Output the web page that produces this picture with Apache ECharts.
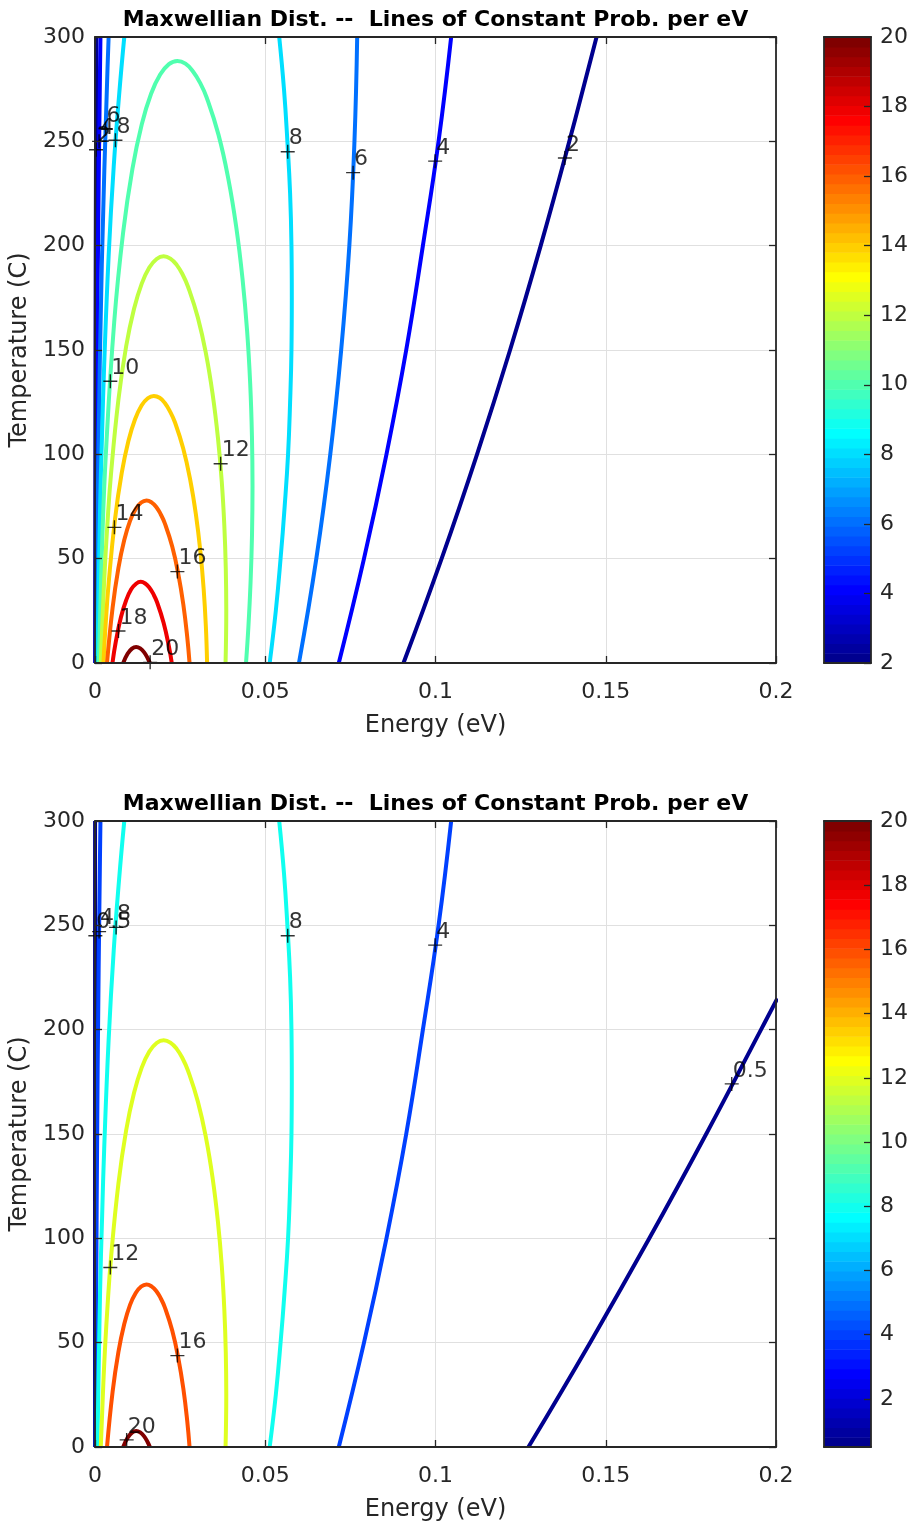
<!DOCTYPE html>
<html><head><meta charset="utf-8">
<script src="https://cdn.jsdelivr.net/npm/echarts@6/dist/echarts.min.js"></script>
<style>html,body{margin:0;padding:0;background:#fff}#c{width:911px;height:1525px}</style>
</head><body><div id="c"></div>
<script>
// ---------------- data ----------------
const TITLE = 'Maxwellian Dist. --  Lines of Constant Prob. per eV';
const X_NAME = 'Energy (eV)';
const Y_NAME = 'Temperature (C)';
const X_MIN = 0, X_MAX = 0.2, X_STEP = 0.05;
const Y_MIN = 0, Y_MAX = 300, Y_STEP = 50;
const TOP_CLIM = [2, 20];
const BOTTOM_CLIM = [0.5, 20];
const CBAR_TICKS_BOTTOM = [2, 4, 6, 8, 10, 12, 14, 16, 18, 20];

// contour paths, points [Energy (eV), Temperature (C)]
const C05_LEFT  = [[0.000003,0],[0.00001,150],[0.000024,300]];
const C05_RIGHT = [[0.1273,0],[0.1454,50],[0.1628,100],[0.1795,150],[0.1956,200],[0.2004,215]];
const C2_LEFT   = [[0.00004,0],[0.0001,100],[0.0002,187],[0.00038,300]];
const C2_RIGHT  = [[0.0906,0],[0.1018,50],[0.1122,100],[0.1219,150],[0.1309,200],[0.1393,250],[0.1473,300]];
const C4_LEFT   = [[0.00017,0],[0.00028,51],[0.00078,181],[0.00142,277],[0.0016,300]];
const C4_RIGHT  = [[0.0716,0],[0.0790,50],[0.0856,100],[0.0914,150],[0.0963,200],[0.1009,250],[0.1046,300]];
const C6_LEFT   = [[0.00038,0],[0.00052,29],[0.00095,94],[0.0020,191],[0.0036,281],[0.0040,300]];
const C6_RIGHT  = [[0.0599,0],[0.0650,50],[0.0691,100],[0.0723,150],[0.0747,200],[0.0762,250],[0.0770,300]];
const C8_LEFT   = [[0.0007,0],[0.0015,75],[0.0021,111],[0.0027,143],[0.0040,195],[0.0055,238],[0.0071,272.5],[0.0086,300]];
const C8_RIGHT  = [[0.0513,0],[0.0531,25],[0.0545,50],[0.0557,75],[0.0567,100],[0.0573,125],[0.0577,150],[0.0578,175],[0.0577,200],[0.0573,225],[0.0565,250],[0.0555,275],[0.0541,300]];
const C10 = [[0.00113,0],[0.00215,59.5],[0.00323,101.5],[0.00564,163.4],[0.00826,206.3],[0.01099,236.8],[0.01374,258.2],[0.01647,272.8],[0.01914,282.0],[0.02172,287.0],[0.0242,288.5],[0.02656,287.2],[0.02878,283.5],[0.03087,278.0],[0.03282,270.9],[0.03628,253.1],[0.03917,231.9],[0.04151,208.6],[0.04333,184.0],[0.04468,158.9],[0.04558,133.8],[0.04609,108.9],[0.04626,84.7],[0.04611,61.3],[0.04569,38.8],[0.04505,17.3],[0.04435,0]];
const C12 = [[0.0017,0],[0.00269,39.1],[0.00367,67.3],[0.0047,90.6],[0.00689,126.4],[0.00915,151.8],[0.01145,169.6],[0.01372,181.8],[0.01595,189.5],[0.0181,193.6],[0.02017,194.9],[0.02213,193.8],[0.02399,190.8],[0.02573,186.2],[0.02735,180.2],[0.03023,165.4],[0.03264,147.8],[0.03459,128.3],[0.03611,107.8],[0.03723,86.9],[0.03798,65.9],[0.03841,45.3],[0.03855,25.1],[0.03834,0]];
const C14 = [[0.00248,0],[0.00314,18.7],[0.00403,38.7],[0.0059,69.3],[0.00785,91.1],[0.00981,106.4],[0.01176,116.8],[0.01367,123.4],[0.01551,126.9],[0.01728,128.0],[0.01897,127.1],[0.02056,124.5],[0.02205,120.5],[0.02344,115.5],[0.02591,102.8],[0.02798,87.6],[0.02965,71.0],[0.03095,53.4],[0.03191,35.5],[0.03256,17.5],[0.03292,0]];
const C16 = [[0.00353,0],[0.00517,26.5],[0.00687,45.5],[0.00859,58.9],[0.01029,68.1],[0.01196,73.8],[0.01357,76.9],[0.01512,77.9],[0.0166,77.0],[0.01799,74.8],[0.01929,71.3],[0.02051,66.9],[0.02268,55.8],[0.02448,42.5],[0.02595,27.9],[0.02708,12.6],[0.02777,0]];
const C18 = [[0.00513,0],[0.0061,10.1],[0.00763,22.0],[0.00915,30.1],[0.01063,35.3],[0.01207,38.0],[0.01344,38.9],[0.01475,38.1],[0.01599,36.1],[0.01715,33.0],[0.01823,29.1],[0.02016,19.2],[0.02176,7.5],[0.02255,0]];
const C20 = [[0.00829,0],[0.00957,4.4],[0.01086,6.9],[0.0121,7.7],[0.01328,7.0],[0.01439,5.2],[0.01544,2.4],[0.01612,0]];

// [level, path] for each panel
const TOP_PATHS = [[2,C2_LEFT],[2,C2_RIGHT],[4,C4_LEFT],[4,C4_RIGHT],[6,C6_LEFT],[6,C6_RIGHT],[8,C8_LEFT],[8,C8_RIGHT],[10,C10],[12,C12],[14,C14],[16,C16],[18,C18],[20,C20]];
const BOTTOM_PATHS = [[0.5,C05_LEFT],[0.5,C05_RIGHT],[4,C4_LEFT],[4,C4_RIGHT],[8,C8_LEFT],[8,C8_RIGHT],[12,C12],[16,C16],[20,C20]];

// contour labels [text, E, T]
const TOP_LABELS = [['2',0.0003,246],['4',0.0012,250],['6',0.0031,256],['8',0.0060,250.5],['8',0.0566,245],['6',0.0758,235],['4',0.0999,240.5],['2',0.1380,242],['10',0.0045,135],['12',0.0369,95.5],['14',0.0057,65],['16',0.0242,43.8],['18',0.0069,15.3],['20',0.0162,0.3]];
const BOTTOM_LABELS = [['0.5',0.0001,245],['4',0.0012,247],['8',0.0062,249],['8',0.0566,245],['4',0.0999,240.5],['0.5',0.1870,174],['12',0.0045,86],['16',0.0242,43.8],['20',0.0093,3.4]];

// ---------------- styling ----------------
const F = 'DejaVu Sans';
const AX = '#262626';
function jet(k) { // MATLAB jet(64), k = 1..64
  const b = k <= 8 ? (k + 8) / 16 : k <= 23 ? 1 : k <= 39 ? (40 - k) / 16 : 0;
  const g = k <= 8 ? 0 : k <= 24 ? (k - 8) / 16 : k <= 39 ? 1 : k <= 55 ? (56 - k) / 16 : 0;
  const r = k <= 24 ? 0 : k <= 40 ? (k - 24) / 16 : k <= 55 ? 1 : (72 - k) / 16;
  return 'rgb(' + Math.round(r * 255) + ',' + Math.round(g * 255) + ',' + Math.round(b * 255) + ')';
}
function levelColor(c, clim) {
  return jet(Math.min(64, Math.floor((c - clim[0]) / (clim[1] - clim[0]) * 64) + 1));
}
const PLOTS = [{top: 37, clim: TOP_CLIM, paths: TOP_PATHS, labels: TOP_LABELS},
               {top: 821, clim: BOTTOM_CLIM, paths: BOTTOM_PATHS, labels: BOTTOM_LABELS}];
const PLUS = 'path://M6.3,0h1.4v6.3h6.3v1.4h-6.3v6.3h-1.4v-6.3h-6.3v-1.4h6.3z';

const grid = [], xAxis = [], yAxis = [], series = [];
const lineBox = {show: true, onZero: false, lineStyle: {color: AX, width: 1.8}};
const tickIn = {show: true, inside: true, length: 7, lineStyle: {color: AX, width: 1.3}};

PLOTS.forEach((p, i) => {
  grid.push({left: 95, top: p.top, width: 681, height: 626});
  const gi = grid.length - 1;
  const xb = xAxis.length;
  const xr = {gridIndex: gi, type: 'value', min: X_MIN, max: X_MAX, interval: X_STEP};
  xAxis.push(Object.assign({}, xr, {position: 'bottom', z: 0, axisLine: {show: false, onZero: false}, axisTick: {show: false},
    axisLabel: {color: AX, fontSize: 22, fontFamily: F, margin: 18},
    splitLine: {show: true, lineStyle: {color: '#e0e0e0', width: 1}},
    name: X_NAME, nameLocation: 'middle', nameGap: 51, nameTextStyle: {color: AX, fontSize: 24, fontFamily: F}}));
  xAxis.push(Object.assign({}, xr, {position: 'bottom', z: 10, axisLine: lineBox, axisTick: tickIn, axisLabel: {show: false}, splitLine: {show: false}}));
  xAxis.push(Object.assign({}, xr, {position: 'top', z: 10, axisLine: lineBox, axisTick: tickIn, axisLabel: {show: false}, splitLine: {show: false},
    name: TITLE, nameLocation: 'middle', nameGap: 6, nameTextStyle: {color: '#000', fontSize: 22, fontWeight: 'bold', fontFamily: F}}));
  const yb = yAxis.length;
  const yr = {gridIndex: gi, type: 'value', min: Y_MIN, max: Y_MAX, interval: Y_STEP};
  yAxis.push(Object.assign({}, yr, {position: 'left', z: 0, axisLine: {show: false, onZero: false}, axisTick: {show: false},
    axisLabel: {color: AX, fontSize: 22, fontFamily: F, margin: 10},
    splitLine: {show: true, lineStyle: {color: '#e0e0e0', width: 1}},
    name: Y_NAME, nameLocation: 'middle', nameGap: 50, nameTextStyle: {color: AX, fontSize: 24, fontFamily: F}}));
  yAxis.push(Object.assign({}, yr, {position: 'left', z: 10, axisLine: lineBox, axisTick: tickIn, axisLabel: {show: false}, splitLine: {show: false}}));
  yAxis.push(Object.assign({}, yr, {position: 'right', z: 10, axisLine: lineBox, axisTick: tickIn, axisLabel: {show: false}, splitLine: {show: false}}));

  p.paths.forEach(([lev, path]) => {
    series.push({type: 'line', xAxisIndex: xb, yAxisIndex: yb, data: path, symbol: 'none', showSymbol: false,
      smooth: 0.45, silent: true, z: 2, lineStyle: {color: levelColor(lev, p.clim), width: 4}});
  });
  series.push({type: 'scatter', xAxisIndex: xb, yAxisIndex: yb, silent: true, z: 5, clip: false,
    data: p.labels.map(l => ({name: l[0], value: [l[1], l[2]]})),
    symbol: PLUS, symbolSize: 14, itemStyle: {color: '#000'},
    label: {show: true, formatter: '{b}', position: [8, -6], align: 'left', verticalAlign: 'middle', color: '#000', fontSize: 22, fontFamily: F}});

  // colorbar
  grid.push({left: 824, top: p.top, width: 49, height: 626});
  const cg = grid.length - 1;
  const cxb = xAxis.length;
  xAxis.push({gridIndex: cg, type: 'value', min: 0, max: 1, position: 'bottom', z: 10, axisLine: lineBox, axisTick: {show: false}, axisLabel: {show: false}, splitLine: {show: false}});
  xAxis.push({gridIndex: cg, type: 'value', min: 0, max: 1, position: 'top', z: 10, axisLine: lineBox, axisTick: {show: false}, axisLabel: {show: false}, splitLine: {show: false}});
  const cyb = yAxis.length;
  const cy = {gridIndex: cg, type: 'value', min: p.clim[0], max: p.clim[1], position: 'right', z: 10, axisLine: lineBox,
    axisTick: Object.assign({}, tickIn), axisLabel: {color: AX, fontSize: 22, fontFamily: F, margin: 9}, splitLine: {show: false}};
  if (i === 0) { cy.interval = 2; }
  else { cy.axisTick.customValues = CBAR_TICKS_BOTTOM; cy.axisLabel.customValues = CBAR_TICKS_BOTTOM; }
  yAxis.push(cy);
  yAxis.push({gridIndex: cg, type: 'value', min: p.clim[0], max: p.clim[1], position: 'left', z: 10, axisLine: lineBox, axisTick: {show: false}, axisLabel: {show: false}, splitLine: {show: false}});
  const n = 64, step = (p.clim[1] - p.clim[0]) / n, bands = [];
  for (let k = 0; k < n; k++) bands.push([0, p.clim[0] + k * step, p.clim[0] + (k + 1) * step, k + 1]);
  series.push({type: 'custom', xAxisIndex: cxb, yAxisIndex: cyb, silent: true, z: 2, data: bands, encode: {x: 0, y: [1, 2]},
    renderItem(params, api) {
      const p0 = api.coord([0, api.value(1)]), p1 = api.coord([1, api.value(2)]);
      return {type: 'rect', shape: {x: p0[0], y: p1[1], width: p1[0] - p0[0], height: p0[1] - p1[1] + 0.6},
        style: {fill: jet(api.value(3))}};
    }});
});

const chart = echarts.init(document.getElementById('c'), null, {renderer: 'canvas'});
chart.setOption({backgroundColor: '#fff', animation: false, grid, xAxis, yAxis, series});
</script></body></html>
